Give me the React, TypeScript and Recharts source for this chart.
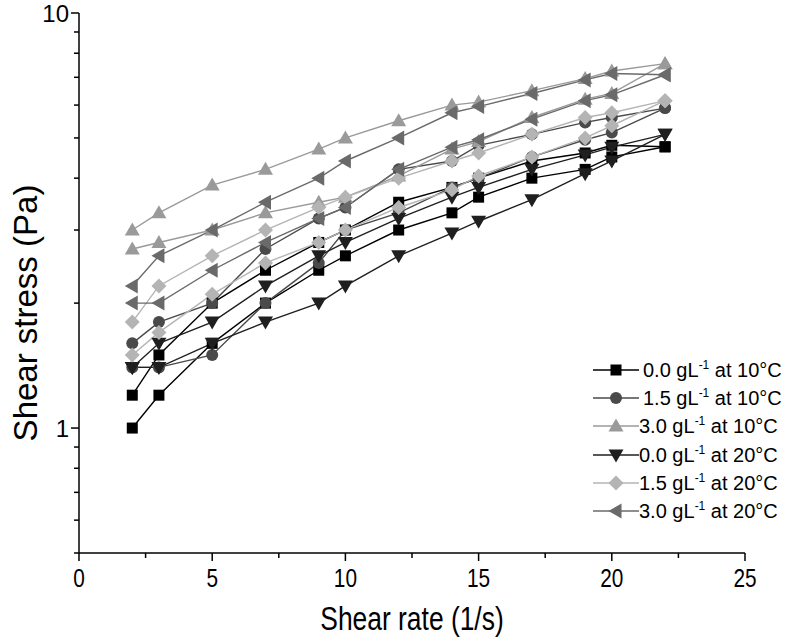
import React from 'react';
import { LineChart, Line, XAxis, YAxis, Label } from 'recharts';

// shear rate steps (1/s), same for every ramp
const shearRate = [2, 3, 5, 7, 9, 10, 12, 14, 15, 17, 19, 20, 22];

// each sample has an upper and a lower branch (up / down ramp)
const c0t10Upper = [1.2, 1.5, 2.0, 2.4, 2.8, 3.0, 3.5, 3.8, 4.0, 4.4, 4.6, 4.8, 4.76];
const c0t10Lower = [1.0, 1.2, 1.6, 2.0, 2.4, 2.6, 3.0, 3.3, 3.6, 4.0, 4.2, 4.5, 4.76];
const c15t10Upper = [1.6, 1.8, 2.0, 2.7, 3.2, 3.4, 4.2, 4.4, 4.8, 5.1, 5.45, 5.6, 5.9];
const c15t10Lower = [1.4, 1.4, 1.5, 2.0, 2.5, 3.0, 3.3, 3.8, 4.0, 4.5, 4.95, 5.15, 5.9];
const c30t10Upper = [3.0, 3.3, 3.85, 4.2, 4.7, 5.0, 5.5, 6.0, 6.1, 6.5, 6.95, 7.25, 7.55];
const c30t10Lower = [2.7, 2.8, 3.0, 3.3, 3.5, 3.6, 4.05, 4.7, 4.9, 5.6, 6.2, 6.4, 7.55];
const c0t20Upper = [1.4, 1.6, 1.8, 2.2, 2.6, 2.8, 3.2, 3.6, 3.8, 4.2, 4.55, 4.75, 5.1];
const c0t20Lower = [1.4, 1.4, 1.6, 1.8, 2.0, 2.2, 2.6, 2.95, 3.15, 3.55, 4.1, 4.4, 5.1];
const c15t20Upper = [1.8, 2.2, 2.6, 3.0, 3.4, 3.6, 4.0, 4.4, 4.6, 5.1, 5.6, 5.75, 6.15];
const c15t20Lower = [1.5, 1.7, 2.1, 2.5, 2.8, 3.0, 3.4, 3.75, 4.05, 4.5, 5.0, 5.35, 6.15];
const c30t20Upper = [2.2, 2.6, 3.0, 3.5, 4.0, 4.4, 5.0, 5.75, 5.95, 6.4, 6.9, 7.15, 7.1];
const c30t20Lower = [2.0, 2.0, 2.4, 2.8, 3.2, 3.4, 4.2, 4.75, 4.95, 5.55, 6.15, 6.35, 7.1];

const xTicks = [0, 2.5, 5, 7.5, 10, 12.5, 15, 17.5, 20, 22.5, 25];
const yTicks = [0.5, 0.6, 0.7, 0.8, 0.9, 1, 2, 3, 4, 5, 6, 7, 8, 9, 10];

const FONT = '"Liberation Sans", Arial, Helvetica, sans-serif';

const series = [
  { key: 's1', conc: '0.0', temp: '10', shape: 'square', color: '#000000', upper: c0t10Upper, lower: c0t10Lower, pad: true },
  { key: 's2', conc: '1.5', temp: '10', shape: 'circle', color: '#4a4a4a', upper: c15t10Upper, lower: c15t10Lower, pad: true },
  { key: 's3', conc: '3.0', temp: '10', shape: 'up', color: '#9a9a9a', upper: c30t10Upper, lower: c30t10Lower },
  { key: 's4', conc: '0.0', temp: '20', shape: 'down', color: '#1f1f1f', upper: c0t20Upper, lower: c0t20Lower },
  { key: 's5', conc: '1.5', temp: '20', shape: 'diamond', color: '#b4b4b4', upper: c15t20Upper, lower: c15t20Lower },
  { key: 's6', conc: '3.0', temp: '20', shape: 'left', color: '#6a6a6a', upper: c30t20Upper, lower: c30t20Lower },
];

const data = shearRate.map((x, i) => {
  const row: Record<string, number> = { x };
  series.forEach(s => {
    row[s.key + 'u'] = s.upper[i];
    row[s.key + 'l'] = s.lower[i];
  });
  return row;
});

const Marker = ({ shape, cx, cy, color }: { shape: string; cx: number; cy: number; color: string }) => {
  switch (shape) {
    case 'square':
      return <rect x={cx - 5.5} y={cy - 5.5} width={11} height={11} fill={color} />;
    case 'circle':
      return <circle cx={cx} cy={cy} r={6} fill={color} />;
    case 'up':
      return <polygon points={`${cx},${cy - 7.5} ${cx + 7.5},${cy + 5.5} ${cx - 7.5},${cy + 5.5}`} fill={color} />;
    case 'down':
      return <polygon points={`${cx},${cy + 7.5} ${cx + 7.5},${cy - 5.5} ${cx - 7.5},${cy - 5.5}`} fill={color} />;
    case 'diamond':
      return <polygon points={`${cx},${cy - 7.5} ${cx + 7.5},${cy} ${cx},${cy + 7.5} ${cx - 7.5},${cy}`} fill={color} />;
    default:
      return <polygon points={`${cx - 7.5},${cy} ${cx + 5.5},${cy - 7.5} ${cx + 5.5},${cy + 7.5}`} fill={color} />;
  }
};

const XTick = ({ x, y, payload }: any) => {
  const v = payload.value;
  const major = v % 5 === 0;
  return (
    <g>
      <line x1={x} x2={x} y1={y} y2={y + (major ? 8 : 5)} stroke="#000" strokeWidth={1.5} />
      {major && (
        <text transform={`translate(${x},${y + 34}) scale(0.8,1)`} textAnchor="middle" fontSize={26} fontFamily={FONT} fill="#000">
          {v}
        </text>
      )}
    </g>
  );
};

const YTick = ({ x, y, payload }: any) => {
  const v = payload.value;
  const major = v === 1 || v === 10;
  return (
    <g>
      <line x1={x - (major ? 8 : 5)} x2={x} y1={y} y2={y} stroke="#000" strokeWidth={1.5} />
      {major && (
        <text x={x - 10} y={y + 8.5} textAnchor="end" fontSize={24} fontFamily={FONT} fill="#000">
          {v}
        </text>
      )}
    </g>
  );
};

const XTitle = ({ viewBox }: any) => (
  <text transform={`translate(${viewBox.x + viewBox.width / 2},${viewBox.y + 77}) scale(0.8,1)`} textAnchor="middle" fontSize={33} fontFamily={FONT} fill="#000">
    Shear rate (1/s)
  </text>
);

const YTitle = ({ viewBox }: any) => (
  <text transform={`translate(${viewBox.x + 37},${viewBox.y + 300}) rotate(-90)`} textAnchor="middle" fontSize={33} fontFamily={FONT} fill="#000">
    Shear stress (Pa)
  </text>
);

const LegendBox = () => (
  <div style={{ position: 'absolute', left: 593, top: 356, fontFamily: FONT, fontSize: 20, color: '#000' }}>
    {series.map(s => (
      <div key={s.key} style={{ display: 'flex', alignItems: 'center', height: 28.2, whiteSpace: 'nowrap' }}>
        <svg width={46} height={20} style={{ display: 'block' }}>
          <line x1={0} x2={46} y1={10} y2={10} stroke={s.color} strokeWidth={1.5} />
          <Marker shape={s.shape} cx={23} cy={10} color={s.color} />
        </svg>
        <span style={{ marginLeft: s.pad ? 4 : 0 }}>
          {s.conc} gL<sup style={{ fontSize: 12, verticalAlign: 8 }}>-1</sup> at {s.temp}°C
        </span>
      </div>
    ))}
  </div>
);

export default function App() {
  return (
    <div style={{ position: 'absolute', left: 0, top: 0, width: 786, height: 641, background: '#fff' }}>
      <LineChart width={786} height={641} data={data} margin={{ top: 13, right: 41, bottom: 0, left: 0 }}>
        <XAxis
          dataKey="x"
          type="number"
          domain={[0, 25]}
          ticks={xTicks}
          interval={0}
          tickSize={0}
          tickMargin={0}
          tick={<XTick />}
          axisLine={{ stroke: '#000', strokeWidth: 1.5 }}
          height={88}
        >
          <Label content={<XTitle />} />
        </XAxis>
        <YAxis
          type="number"
          scale="log"
          domain={[0.5, 10]}
          allowDataOverflow
          ticks={yTicks}
          interval={0}
          tickSize={0}
          tickMargin={0}
          tick={<YTick />}
          axisLine={{ stroke: '#000', strokeWidth: 1.5 }}
          width={79}
        >
          <Label content={<YTitle />} />
        </YAxis>
        {series.flatMap(s =>
          ['u', 'l'].map(b => (
            <Line
              key={s.key + b}
              dataKey={s.key + b}
              type="linear"
              stroke={s.color}
              strokeWidth={1.4}
              activeDot={false}
              legendType="none"
              isAnimationActive={false}
              dot={(p: any) => <Marker key={p.index} shape={s.shape} cx={p.cx} cy={p.cy} color={s.color} />}
            />
          ))
        )}
      </LineChart>
      <LegendBox />
    </div>
  );
}
